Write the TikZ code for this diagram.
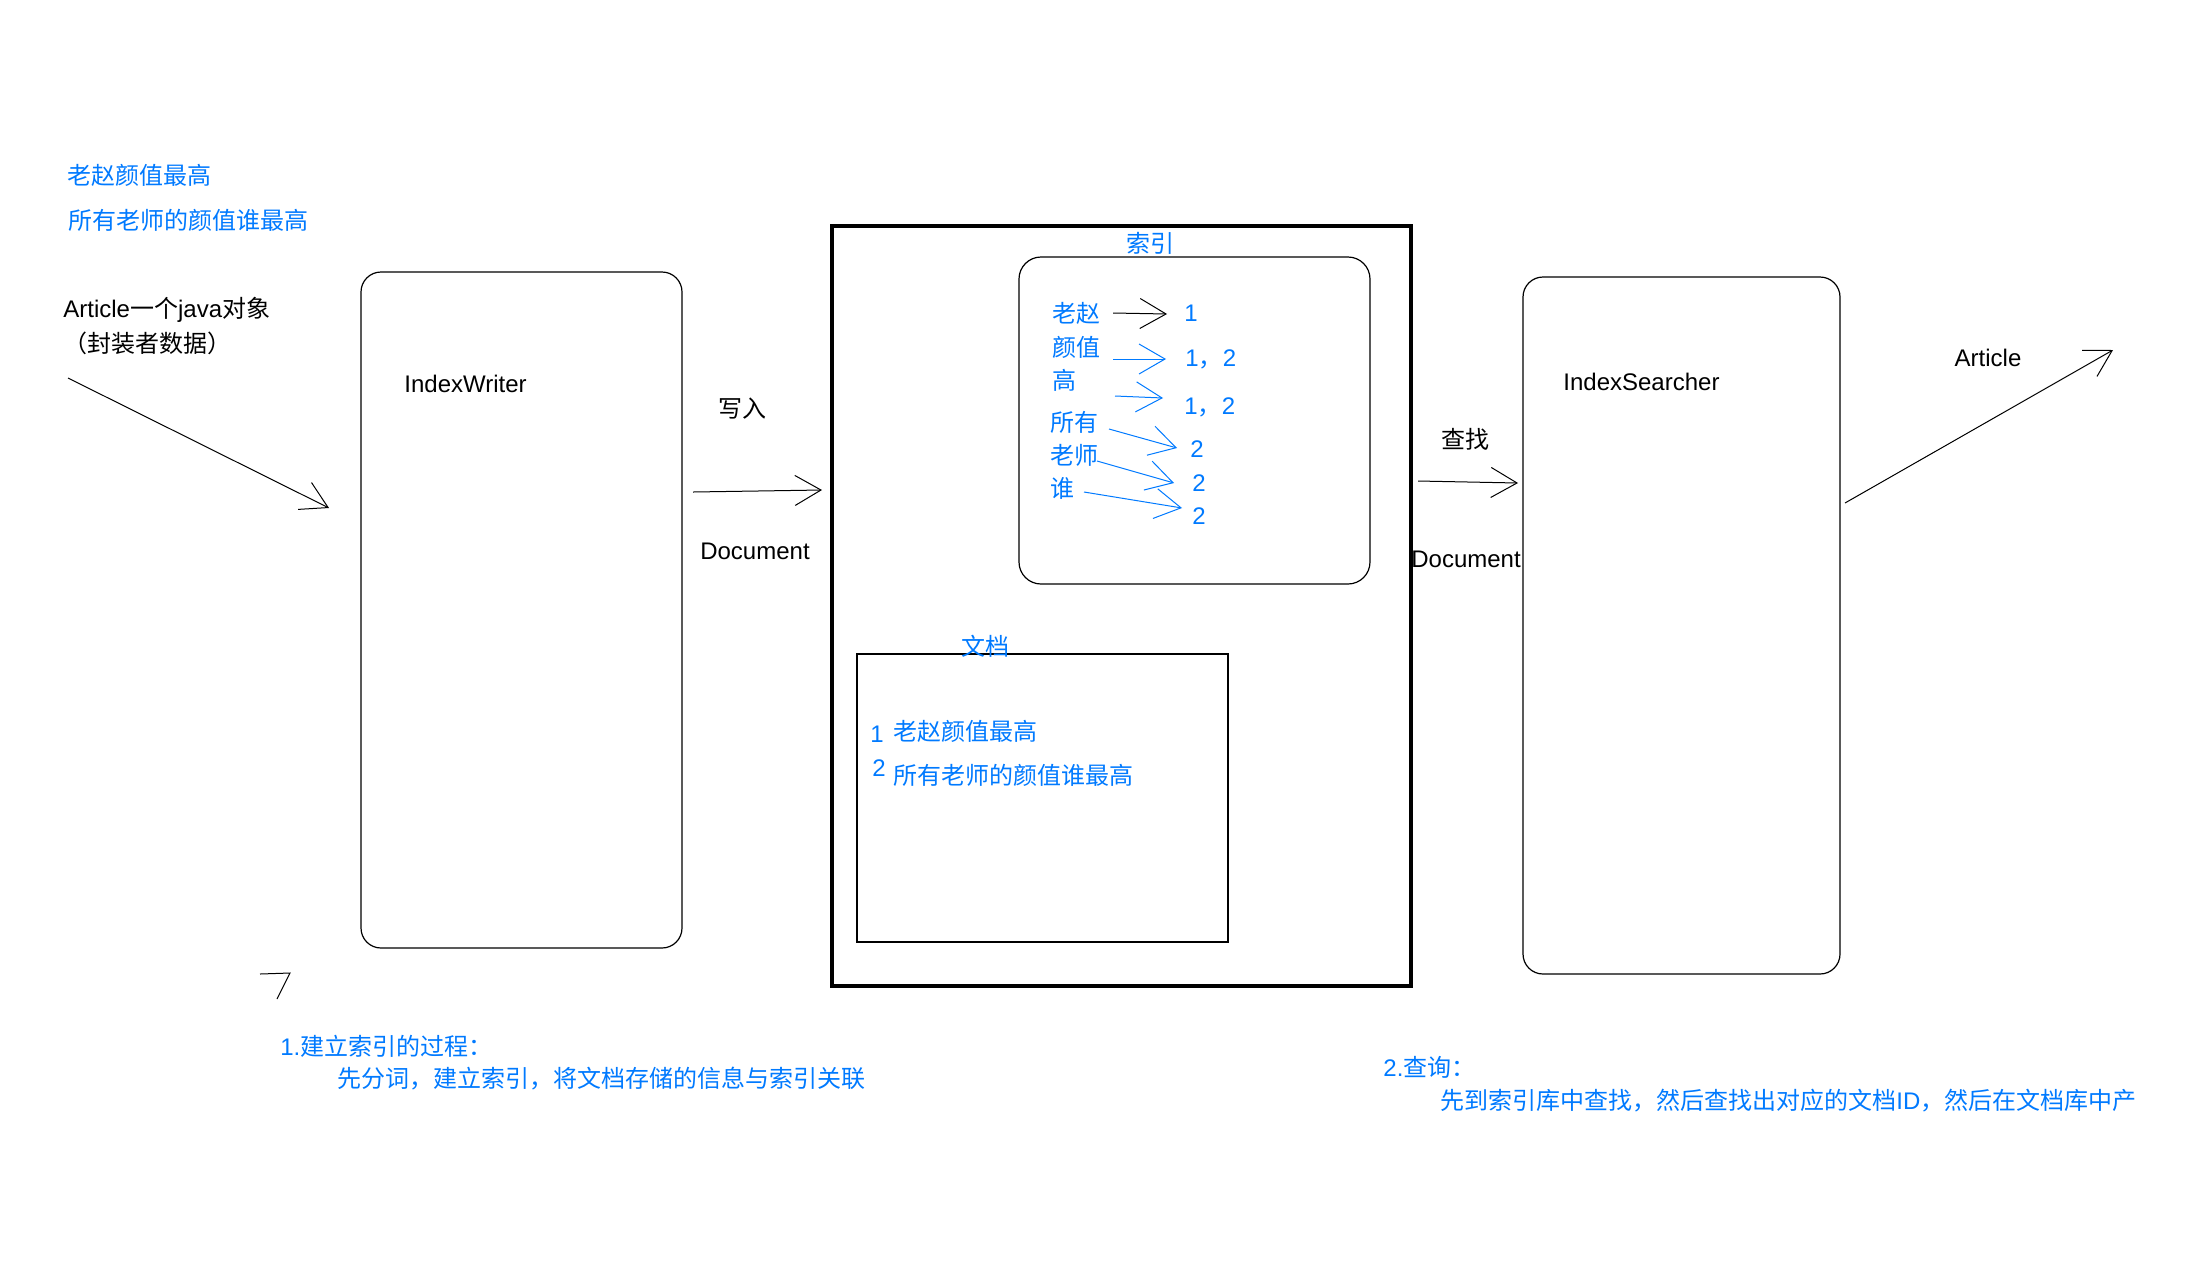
\documentclass[tikz,border=0pt]{standalone}
\usepackage{fontspec}
\setmainfont{Liberation Sans}
\newfontfamily\cjk{Noto Sans CJK SC}
\usetikzlibrary{arrows.meta}
\definecolor{cblue}{RGB}{0,122,255}
\begin{document}
\begin{tikzpicture}[x=0.5pt,y=-0.5pt,
  txt/.style={inner sep=0pt,font=\fontsize{12}{14}\selectfont},
  ctxt/.style={inner sep=0pt,font=\fontsize{12}{14}\selectfont\cjk},
  bl/.style={text=cblue},
  rbox/.style={draw=black,line width=0.6pt,rounded corners=10pt},
  pbox/.style={draw=black,line width=0.6pt},
  obox/.style={draw=black,line width=1.6pt},
  arr/.style={draw=black,line width=0.5pt,-{Straight Barb[length=13pt,width=15pt]}},
  barr/.style={arr,draw=cblue}]
\useasboundingbox (0,0) rectangle (2188,1286);
\fill[white] (0,0) rectangle (2188,1286);

% top-left texts
\node[ctxt,bl,anchor=west] (t1) at (67,175) {老赵颜值最高};
\node[ctxt,bl,anchor=west] (t2) at (68,220) {所有老师的颜值谁最高};
\node[txt,anchor=west] (art) at (63,310) {Article{\cjk 一个}java{\cjk 对象}};
\node[ctxt,anchor=west] (art2) at (63,343) {（封装者数据）};

% boxes
\draw[rbox] (361,272) rectangle (682,948);
\node[txt,anchor=west] (iw) at (404,384) {IndexWriter};
\draw[obox] (832,226) rectangle (1411,986);
\draw[rbox,rounded corners=11pt] (1019,257) rectangle (1370,584);
\node[ctxt,bl] (suoyin) at (1150,243) {索引};
\draw[pbox] (857,654) rectangle (1228,942);
\node[ctxt,bl] (wendang) at (985,646) {文档};
\draw[rbox] (1523,277) rectangle (1840,974);
\node[txt,anchor=west] (is) at (1563,382) {IndexSearcher};

% Article -> IndexWriter
\coordinate (a1s) at (68,378);
\coordinate (a1e) at (329,508);
\draw[arr] (a1s) -- (a1e);

% write
\coordinate (w1s) at (693,492);
\coordinate (w1e) at (822,490);
\draw[arr] (w1s) -- (w1e);
\node[ctxt] (xieru) at (742,409) {写入};
\node[txt] (doc1) at (755,551) {Document};

% index words
\node[ctxt,bl,anchor=west] (k1) at (1052,313) {老赵};
\node[ctxt,bl,anchor=west] (k2) at (1052,347) {颜值};
\node[ctxt,bl,anchor=west] (k3) at (1052,380) {高};
\node[ctxt,bl,anchor=west] (k4) at (1050,422) {所有};
\node[ctxt,bl,anchor=west] (k5) at (1050,455) {老师};
\node[ctxt,bl,anchor=west] (k6) at (1050,488) {谁};

\node[txt,bl] (n1) at (1191,313) {1};
\node[txt,bl,anchor=west] (n2) at (1185,359) {1{\cjk ，}2};
\node[txt,bl,anchor=west] (n3) at (1184,407) {1{\cjk ，}2};
\node[txt,bl] (n4) at (1197,449) {2};
\node[txt,bl] (n5) at (1199,483) {2};
\node[txt,bl] (n6) at (1199,516) {2};

\coordinate (p1s) at (1113,313); \coordinate (p1e) at (1167,314);
\coordinate (p2s) at (1113,359); \coordinate (p2e) at (1166,359);
\coordinate (p3s) at (1115,396); \coordinate (p3e) at (1163,398);
\coordinate (p4s) at (1109,429); \coordinate (p4e) at (1177,448);
\coordinate (p5s) at (1097,461); \coordinate (p5e) at (1174,483);
\coordinate (p6s) at (1084,492); \coordinate (p6e) at (1182,508);
\draw[arr] (p1s) -- (p1e);
\draw[barr] (p2s) -- (p2e);
\draw[barr] (p3s) -- (p3e);
\draw[barr] (p4s) -- (p4e);
\draw[barr] (p5s) -- (p5e);
\draw[barr] (p6s) -- (p6e);

% documents
\node[txt,bl] (d1n) at (877,734) {1};
\node[ctxt,bl,anchor=west] (d1) at (893,731) {老赵颜值最高};
\node[txt,bl] (d2n) at (879,768) {2};
\node[ctxt,bl,anchor=west] (d2) at (893,775) {所有老师的颜值谁最高};

% search
\coordinate (s1s) at (1418,481);
\coordinate (s1e) at (1518,483);
\draw[arr] (s1s) -- (s1e);
\node[ctxt] (chazhao) at (1465,439) {查找};
\node[txt] (doc2) at (1466,559) {Document};

% Article out
\coordinate (o1s) at (1845,503);
\coordinate (o1e) at (2113,350);
\draw[arr] (o1s) -- (o1e);
\node[txt] (art3) at (1988,358) {Article};

% stray mark
\coordinate (m1) at (260,974);
\coordinate (m2) at (290,973);
\coordinate (m3) at (277,999);
\draw[line width=0.5pt] (m1) -- (m2) -- (m3);

% bottom notes
\node[txt,bl,anchor=west] (b1) at (280,1046) {1.{\cjk 建立索引的过程：}};
\node[ctxt,bl,anchor=west] (b2) at (337,1079) {先分词，建立索引，将文档存储的信息与索引关联};
\node[txt,bl,anchor=west] (b3) at (1383,1067) {2.{\cjk 查询：}};
\node[ctxt,bl,anchor=west] (b4) at (1440,1101) {先到索引库中查找，然后查找出对应的文档{\rmfamily ID}，然后在文档库中产};
\end{tikzpicture}
\end{document}
